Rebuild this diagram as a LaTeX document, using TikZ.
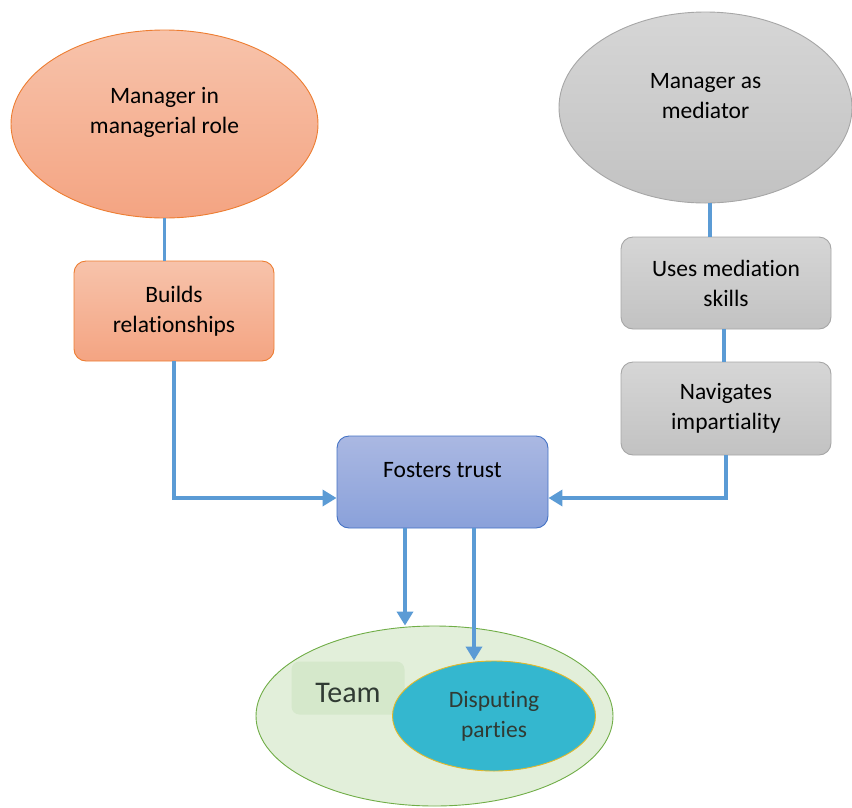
\documentclass[tikz,border=0pt]{standalone}
\usepackage{fontspec}
\setmainfont{Carlito}[Ligatures=NoCommon]
\usetikzlibrary{shapes.geometric,arrows.meta}

\definecolor{orTop}{HTML}{F7C3AB}
\definecolor{orBot}{HTML}{F4A482}
\definecolor{orLine}{HTML}{ED7D31}
\definecolor{grTop}{HTML}{D6D6D6}
\definecolor{grBot}{HTML}{C2C2C2}
\definecolor{grLine}{HTML}{A6A6A6}
\definecolor{blTop}{HTML}{AAB8E2}
\definecolor{blBot}{HTML}{8AA1DA}
\definecolor{blLine}{HTML}{4472C4}
\definecolor{linkBlue}{HTML}{5B9BD5}
\definecolor{teamFill}{HTML}{E2EFDA}
\definecolor{teamLine}{HTML}{70AD47}
\definecolor{tagFill}{HTML}{D5E8CB}
\definecolor{dispFill}{HTML}{34B7CF}
\definecolor{dispLine}{HTML}{E3B92A}
\definecolor{darkText}{HTML}{303A33}

\begin{document}
\begin{tikzpicture}[x=1pt,y=-1pt,
  lbl/.style={font=\fontsize{23.5}{30}\selectfont, align=center},
  link/.style={draw=linkBlue, line width=3.5pt},
  arr/.style={link, -{Triangle[length=14pt,width=16pt]}},
  oval/.style={ellipse, inner sep=0pt, line width=0.9pt},
  card/.style={rectangle, rounded corners=12pt, inner sep=0pt, line width=0.9pt},
  orangefill/.style={draw=orLine, top color=orTop, bottom color=orBot},
  grayfill/.style={draw=grLine, top color=grTop, bottom color=grBot},
]
\useasboundingbox (0,0) rectangle (852,807);

% left branch: managerial role
\node[oval, orangefill, minimum width=307pt, minimum height=188pt,
  label={[lbl, yshift=12pt]center:Manager in\\managerial role}] (mgr) at (164.5,124) {};
\node[card, orangefill, lbl, minimum width=200pt, minimum height=100pt] (builds) at (174,311) {Builds\\relationships};

% right branch: mediator role
\node[oval, grayfill, minimum width=293pt, minimum height=191pt,
  label={[lbl, yshift=11pt]center:Manager as\\mediator}] (med) at (705.5,107.5) {};
\node[card, grayfill, lbl, minimum width=210pt, minimum height=92pt] (uses) at (726,283) {Uses mediation\\skills};
\node[card, grayfill, lbl, minimum width=210pt, minimum height=93pt] (navi) at (726,408.5) {Navigates\\impartiality};

% central outcome
\node[card, draw=blLine, top color=blTop, bottom color=blBot, minimum width=211pt, minimum height=92pt,
  label={[lbl, yshift=12pt]center:Fosters trust}] (fost) at (442.5,482) {};

% team and the parties in dispute
\node[oval, draw=teamLine, fill=teamFill, minimum width=357pt, minimum height=180pt] (team) at (434.5,716) {};
\node[rectangle, rounded corners=8pt, fill=tagFill, minimum width=113pt, minimum height=53pt,
  text height=29pt, text depth=0pt,
  font=\fontsize{30}{34}\selectfont, text=darkText] (tag) at (348,688) {Team};
\node[oval, draw=dispLine, fill=dispFill, minimum width=203pt, minimum height=110pt,
  lbl, text=darkText] (disp) at (494,716) {Disputing\\parties};

% connectors
\draw[link] (mgr.south) -- (mgr.south |- builds.north);
\draw[link] ([xshift=4.5pt]med.south) -- ([xshift=4.5pt]med.south |- uses.north);
\draw[link] ([xshift=-2pt]uses.south) -- ([xshift=-2pt]uses.south |- navi.north);
\draw[arr] (builds.south) |- ([yshift=-16pt]fost.west);
\draw[arr] (navi.south) |- ([yshift=-16pt]fost.east);
\draw[arr] ([xshift=-37.5pt]fost.south) -- ([xshift=-37.5pt]fost.south |- team.north);
\draw[arr] ([xshift=31.5pt]fost.south) -- ([xshift=31.5pt]fost.south |- disp.north);
\end{tikzpicture}
\end{document}
